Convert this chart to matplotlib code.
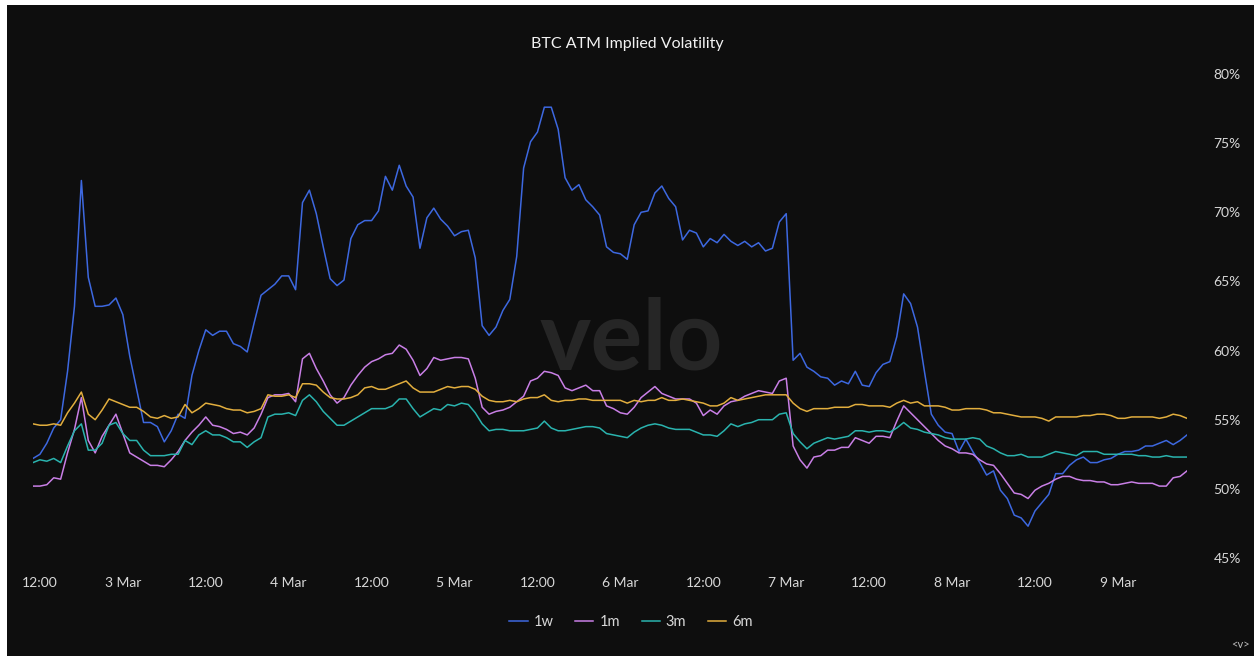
import matplotlib
matplotlib.use('Agg')
import matplotlib.pyplot as plt
from matplotlib.patches import Rectangle
import pandas as pd

# hourly ATM implied vol (%), 2 Mar 11:00 -> 9 Mar 10:00
start_time = '2024-03-02 11:00'

iv_1w = [
    52.2, 52.5, 53.3, 54.4, 55.0, 58.5, 63.2, 72.3, 65.3, 63.2, 63.2, 63.3, 63.8, 62.6, 59.6, 57.2,
    54.8, 54.8, 54.5, 53.4, 54.2, 55.4, 55.1, 58.2, 60.0, 61.5, 61.1, 61.4, 61.4, 60.5, 60.3, 59.9,
    62.0, 64.0, 64.4, 64.8, 65.4, 65.4, 64.4, 70.7, 71.6, 69.9, 67.5, 65.2, 64.7, 65.1, 68.1, 69.1,
    69.4, 69.4, 70.1, 72.6, 71.6, 73.4, 71.9, 71.1, 67.4, 69.6, 70.3, 69.5, 69.0, 68.3, 68.6, 68.7,
    66.7, 61.8, 61.1, 61.7, 62.9, 63.7, 66.8, 73.2, 75.1, 75.8, 77.6, 77.6, 76.0, 72.5, 71.6, 72.0,
    70.9, 70.4, 69.8, 67.5, 67.1, 67.0, 66.6, 69.1, 70.0, 70.1, 71.4, 71.9, 71.0, 70.4, 68.0, 68.7,
    68.5, 67.5, 68.1, 67.8, 68.4, 67.9, 67.6, 67.9, 67.5, 67.8, 67.2, 67.4, 69.3, 69.9, 59.3, 59.8,
    58.8, 58.5, 58.1, 58.0, 57.5, 57.8, 57.6, 58.5, 57.5, 57.4, 58.4, 59.0, 59.2, 61.0, 64.1, 63.4,
    61.7, 58.5, 55.4, 54.6, 54.1, 54.0, 52.7, 53.6, 52.7, 51.9, 51.0, 51.3, 49.9, 49.3, 48.1, 47.9,
    47.3, 48.4, 49.0, 49.6, 51.1, 51.1, 51.7, 52.1, 52.3, 51.9, 51.9, 52.1, 52.2, 52.5, 52.7, 52.7,
    52.8, 53.1, 53.1, 53.3, 53.5, 53.2, 53.5, 53.9,
]

iv_1m = [
    50.2, 50.2, 50.3, 50.8, 50.7, 52.6, 54.3, 56.6, 53.5, 52.6, 53.8, 54.6, 55.4, 54.0, 52.6, 52.3,
    52.0, 51.7, 51.7, 51.6, 52.1, 52.7, 53.5, 54.1, 54.6, 55.2, 54.6, 54.5, 54.3, 54.0, 54.1, 53.9,
    54.4, 55.4, 56.6, 56.8, 56.8, 56.9, 56.3, 59.4, 59.8, 58.7, 57.8, 56.8, 56.2, 56.6, 57.5, 58.2,
    58.8, 59.2, 59.4, 59.7, 59.8, 60.4, 60.1, 59.3, 58.2, 58.7, 59.5, 59.3, 59.4, 59.5, 59.5, 59.4,
    58.0, 55.9, 55.4, 55.6, 55.7, 55.9, 56.3, 56.7, 57.8, 58.0, 58.5, 58.4, 58.2, 57.3, 57.1, 57.3,
    57.5, 57.1, 57.1, 56.0, 55.8, 55.5, 55.4, 55.9, 56.6, 57.0, 57.4, 56.9, 56.7, 56.5, 56.5, 56.5,
    56.2, 55.3, 55.7, 55.4, 56.0, 56.3, 56.4, 56.7, 56.9, 57.1, 57.0, 56.9, 57.8, 58.0, 53.1, 52.1,
    51.5, 52.3, 52.4, 52.8, 52.8, 53.0, 53.0, 53.7, 53.5, 53.3, 53.8, 53.8, 53.7, 54.9, 56.0, 55.5,
    55.0, 54.5, 54.0, 53.5, 53.1, 52.9, 52.6, 52.6, 52.5, 52.1, 51.8, 51.7, 51.1, 50.4, 49.7, 49.6,
    49.3, 49.9, 50.2, 50.4, 50.7, 50.9, 50.9, 50.7, 50.6, 50.6, 50.5, 50.5, 50.3, 50.3, 50.4, 50.5,
    50.4, 50.4, 50.4, 50.2, 50.2, 50.8, 50.9, 51.3,
]

iv_3m = [
    51.9, 52.1, 52.0, 52.2, 51.9, 53.1, 54.2, 54.7, 52.8, 52.8, 53.3, 54.6, 54.8, 54.0, 53.5, 53.5,
    52.8, 52.4, 52.4, 52.4, 52.5, 52.5, 53.5, 53.2, 53.9, 54.2, 53.9, 53.9, 53.7, 53.4, 53.4, 53.0,
    53.4, 53.7, 55.2, 55.4, 55.4, 55.5, 55.3, 56.4, 56.8, 56.3, 55.6, 55.1, 54.6, 54.6, 54.9, 55.2,
    55.5, 55.8, 55.8, 55.8, 56.0, 56.5, 56.5, 55.8, 55.2, 55.5, 55.8, 55.7, 56.1, 56.0, 56.2, 56.1,
    55.5, 54.7, 54.2, 54.3, 54.3, 54.2, 54.2, 54.2, 54.3, 54.4, 54.9, 54.4, 54.2, 54.2, 54.3, 54.4,
    54.5, 54.5, 54.4, 54.0, 53.9, 53.8, 53.7, 54.1, 54.4, 54.6, 54.7, 54.6, 54.4, 54.3, 54.3, 54.3,
    54.1, 53.9, 53.9, 53.8, 54.2, 54.7, 54.5, 54.7, 54.8, 55.0, 55.0, 55.0, 55.4, 55.5, 54.0, 53.4,
    52.9, 53.3, 53.5, 53.7, 53.6, 53.7, 53.8, 54.2, 54.2, 54.1, 54.2, 54.2, 54.1, 54.4, 54.8, 54.4,
    54.3, 54.1, 54.0, 53.9, 53.7, 53.6, 53.6, 53.6, 53.7, 53.6, 53.1, 52.9, 52.6, 52.4, 52.4, 52.5,
    52.3, 52.3, 52.3, 52.5, 52.7, 52.6, 52.5, 52.4, 52.7, 52.7, 52.7, 52.5, 52.5, 52.5, 52.5, 52.5,
    52.4, 52.4, 52.3, 52.3, 52.4, 52.3, 52.3, 52.3,
]

iv_6m = [
    54.7, 54.6, 54.6, 54.7, 54.6, 55.5, 56.2, 57.0, 55.4, 55.0, 55.7, 56.5, 56.3, 56.1, 55.9, 55.9,
    55.6, 55.2, 55.1, 55.3, 55.1, 55.2, 56.1, 55.5, 55.8, 56.2, 56.1, 56.0, 55.8, 55.7, 55.7, 55.5,
    55.6, 55.8, 56.8, 56.7, 56.7, 56.8, 56.6, 57.6, 57.6, 57.5, 57.0, 56.6, 56.5, 56.5, 56.6, 56.8,
    57.3, 57.4, 57.2, 57.2, 57.4, 57.6, 57.8, 57.3, 57.0, 57.0, 57.0, 57.2, 57.4, 57.3, 57.4, 57.4,
    57.2, 56.7, 56.4, 56.3, 56.3, 56.4, 56.3, 56.5, 56.6, 56.6, 56.8, 56.4, 56.3, 56.4, 56.4, 56.5,
    56.5, 56.4, 56.4, 56.4, 56.4, 56.4, 56.2, 56.4, 56.3, 56.4, 56.4, 56.6, 56.4, 56.4, 56.5, 56.4,
    56.3, 56.2, 56.0, 56.0, 56.2, 56.6, 56.4, 56.5, 56.6, 56.7, 56.8, 56.8, 56.8, 56.8, 56.2, 55.8,
    55.6, 55.8, 55.8, 55.8, 55.9, 55.9, 55.9, 56.1, 56.1, 56.0, 56.0, 56.0, 55.9, 56.2, 56.4, 56.2,
    56.3, 56.0, 56.0, 56.0, 55.9, 55.7, 55.7, 55.8, 55.8, 55.8, 55.7, 55.5, 55.5, 55.4, 55.3, 55.2,
    55.2, 55.2, 55.1, 54.9, 55.2, 55.2, 55.2, 55.2, 55.3, 55.3, 55.4, 55.4, 55.3, 55.1, 55.1, 55.2,
    55.2, 55.2, 55.2, 55.1, 55.2, 55.4, 55.3, 55.1,
]

series_names = ['1w', '1m', '3m', '6m']
series_colors = ['#3d68e0', '#c97fe6', '#2ab3ae', '#e2ae3e']
y_ticks = [45, 50, 55, 60, 65, 70, 75, 80]

times = pd.date_range(start_time, periods=len(iv_1w), freq='h')

plt.rcParams['font.family'] = ['Lato', 'DejaVu Sans']

bg = '#0e0e0e'
text_col = '#d8d8d8'

fig = plt.figure(figsize=(12.54, 6.56), dpi=100, facecolor='white')
# dark panel (screenshot has a thin white edge at left/top)
fig.add_artist(Rectangle((7 / 1254, 0), 1, 1 - 5 / 656, transform=fig.transFigure,
                         facecolor=bg, edgecolor='none', zorder=-10))

ax = fig.add_axes([33 / 1254, 1 - 558 / 656, 1154 / 1254, 484 / 656])
ax.set_facecolor('none')

for vals, name, col in zip([iv_1w, iv_1m, iv_3m, iv_6m], series_names, series_colors):
    ax.plot(times, vals, color=col, lw=1.1, label=name, zorder=3)

ax.set_xlim(times[0], times[-1])
ax.set_ylim(45, 80)

# ticks every 12h
xt = pd.date_range('2024-03-02 12:00', '2024-03-09 00:00', freq='12h')
ax.set_xticks(xt)
ax.set_xticklabels(['12:00' if t.hour == 12 else f'{t.day} Mar' for t in xt])
ax.set_yticks(y_ticks)
ax.set_yticklabels([f'{v}%' for v in y_ticks])
ax.yaxis.tick_right()
ax.tick_params(axis='both', length=0, colors=text_col, labelsize=10)
ax.tick_params(axis='x', pad=14)
ax.tick_params(axis='y', pad=19)
for lab in ax.get_yticklabels():
    lab.set_horizontalalignment('left')
for s in ax.spines.values():
    s.set_visible(False)

# watermark
ax.text((631 - 33) / 1154, (558 - 370) / 484, 'velo', transform=ax.transAxes,
        ha='center', va='baseline', fontsize=70, fontweight='bold', color='#262626', zorder=1)

fig.text(627 / 1254, 1 - 44 / 656, 'BTC ATM Implied Volatility', ha='center', va='center',
         fontsize=11.5, color='#f2f2f2')

fig.legend(loc='center', bbox_to_anchor=(631 / 1254, 1 - 622 / 656), ncol=4, frameon=False,
           fontsize=10.5, labelcolor=text_col, handlelength=1.25, handletextpad=0.4,
           columnspacing=1.5)

fig.text(1240 / 1254, 1 - 645 / 656, '<v>', ha='center', va='center', fontsize=8, color='#bbbbbb')

fig.savefig('out.png', dpi=100, facecolor=fig.get_facecolor())
